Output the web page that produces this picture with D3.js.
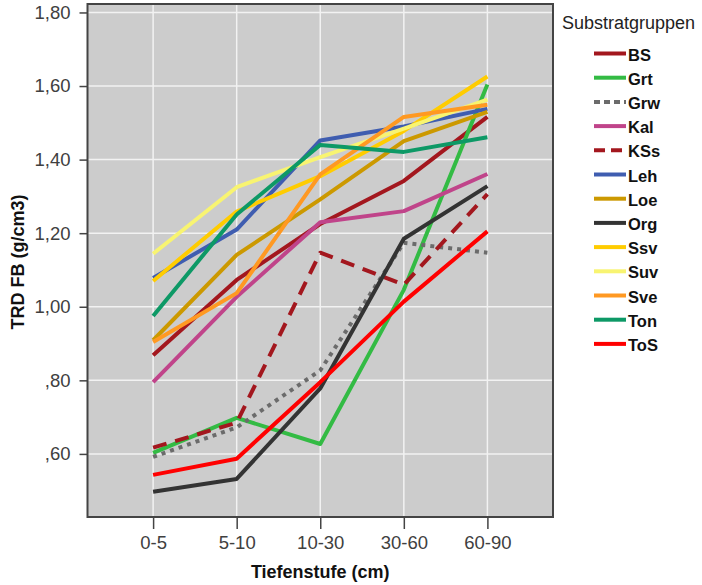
<!DOCTYPE html>
<html><head><meta charset="utf-8">
<script src="https://cdn.jsdelivr.net/npm/d3@7"></script>
<style>body{margin:0;background:#fff;} svg{display:block;font-family:"Liberation Sans",Arial,sans-serif;}</style>
</head><body><svg id="c" width="702" height="585"></svg>
<script>
const categories = ["0-5","5-10","10-30","30-60","60-90"];
const yTicks = [0.6,0.8,1.0,1.2,1.4,1.6,1.8];
const yTickLabels = [",60",",80","1,00","1,20","1,40","1,60","1,80"];
const seriesNames = ["BS","Grt","Grw","Kal","KSs","Leh","Loe","Org","Ssv","Suv","Sve","Ton","ToS"];
const seriesColors = ["#a3171e","#33bb44","#6b6b6b","#c0448a","#a3171e","#3f5db0","#cc9900","#333333","#ffcc00","#f8f471","#ff9922","#0d9966","#ff0000"];
const seriesDash = ["","","4,5","","14,9","","","","","","","",""];
const BS  = [0.868,1.073,1.225,1.342,1.516];
const Grt = [0.603,0.698,0.627,1.046,1.604];
const Grw = [0.592,0.672,0.827,1.174,1.147];
const Kal = [0.795,1.027,1.230,1.260,1.361];
const KSs = [0.617,0.685,1.147,1.060,1.306];
const Leh = [1.078,1.210,1.452,1.490,1.538];
const Loe = [0.909,1.141,1.292,1.450,1.530];
const Org = [0.497,0.532,0.778,1.185,1.328];
const Ssv = [1.070,1.259,1.355,1.478,1.626];
const Suv = [1.144,1.325,1.407,1.484,1.563];
const Sve = [0.904,1.037,1.360,1.516,1.549];
const Ton = [0.975,1.251,1.440,1.421,1.461];
const ToS = [0.543,0.587,0.795,1.014,1.205];
const seriesValues = [BS,Grt,Grw,Kal,KSs,Leh,Loe,Org,Ssv,Suv,Sve,Ton,ToS];

const svg = d3.select("#c");
const L=87.5, R=553, T=4, B=517;
const x = d3.scalePoint().domain(categories).range([L,R]).padding(0.785);
const y = d3.scaleLinear().domain([0.4285,1.823]).range([B,T]);

svg.append("rect").attr("x",L).attr("y",T).attr("width",R-L).attr("height",B-T).attr("fill","#cccccc");
// grid
svg.append("g").selectAll("line").data(yTicks).join("line")
  .attr("x1",L).attr("x2",R).attr("y1",d=>y(d)).attr("y2",d=>y(d))
  .attr("stroke","#f2f2f2").attr("stroke-width",1.5);
svg.append("g").selectAll("line").data(categories).join("line")
  .attr("y1",T).attr("y2",B).attr("x1",d=>x(d)).attr("x2",d=>x(d))
  .attr("stroke","#f2f2f2").attr("stroke-width",1.5);

// lines
const line = d3.line().x((d,i)=>x(categories[i])).y(d=>y(d));
const g = svg.append("g");
seriesValues.forEach((vals,k)=>{
  g.append("path").attr("d",line(vals)).attr("fill","none")
   .attr("stroke",seriesColors[k]).attr("stroke-width",4)
   .attr("stroke-linejoin","round")
   .attr("stroke-dasharray",seriesDash[k]||null);
});

// border
svg.append("rect").attr("x",L).attr("y",T).attr("width",R-L).attr("height",B-T)
  .attr("fill","none").attr("stroke","#444").attr("stroke-width",2);

// axes
const yAxis = d3.axisLeft(y).tickValues(yTicks).tickSize(8).tickPadding(9).tickFormat((d,i)=>yTickLabels[i]);
const ya = svg.append("g").attr("transform",`translate(${L},0)`).call(yAxis);
ya.select(".domain").remove();
ya.selectAll("line").attr("stroke","#444").attr("stroke-width",1.5);
ya.selectAll("text").attr("font-size",18.5).attr("fill","#404040").attr("font-family","Liberation Sans, Arial, sans-serif");

const xAxis = d3.axisBottom(x).tickSize(12).tickPadding(7);
const xa = svg.append("g").attr("transform",`translate(0,${B})`).call(xAxis);
xa.select(".domain").remove();
xa.selectAll("line").attr("stroke","#444").attr("stroke-width",1.5);
xa.selectAll("text").attr("font-size",18.5).attr("fill","#404040").attr("font-family","Liberation Sans, Arial, sans-serif");

svg.append("text").attr("x",(L+R)/2).attr("y",578).attr("text-anchor","middle")
  .attr("font-size",18).attr("font-weight","bold").attr("fill","#111").text("Tiefenstufe (cm)");
svg.append("text").attr("transform","translate(24,262) rotate(-90)").attr("text-anchor","middle")
  .attr("font-size",18).attr("font-weight","bold").attr("fill","#111").text("TRD FB (g/cm3)");

// legend
svg.append("text").attr("x",562).attr("y",29).attr("font-size",18).attr("fill","#222").text("Substratgruppen");
const lg = svg.append("g");
seriesNames.forEach((n,k)=>{
  const yy = 53.5 + k*24.2;
  lg.append("line").attr("x1",594).attr("x2",626).attr("y1",yy).attr("y2",yy)
    .attr("stroke",seriesColors[k]).attr("stroke-width",4)
    .attr("stroke-dasharray",seriesDash[k] ? (k===2?"6,4":"11,6") : null);
  lg.append("text").attr("x",628).attr("y",yy+7).attr("font-size",16.5).attr("font-weight","bold").attr("fill","#111").text(n);
});
</script></body></html>
